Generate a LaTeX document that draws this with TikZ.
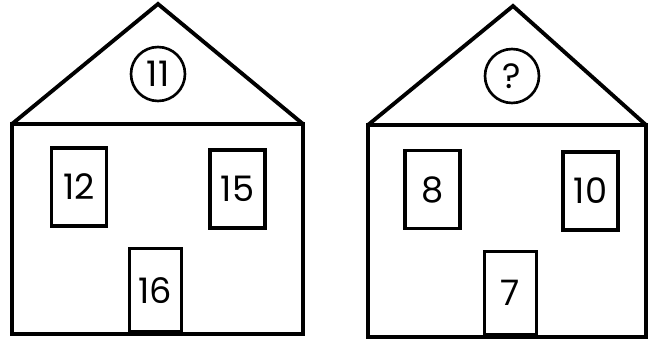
\documentclass[tikz,border=0pt]{standalone}
\usepackage{fontspec}
\setmainfont{Poppins}
\usetikzlibrary{calc}

\begin{document}
\begin{tikzpicture}[
			x=0.02cm, y=-0.02cm,
			wall/.style={line width=2.2pt, line join=miter},
			win/.style={draw, line width=2pt, inner sep=0pt,
				minimum width=1.1cm, minimum height=1.56cm,
				font=\fontsize{20}{20}\selectfont},
			door/.style={draw, line width=2pt, inner sep=0pt,
				minimum width=1.04cm, minimum height=1.68cm, anchor=south,
				font=\fontsize{20}{20}\selectfont},
			badge/.style={circle, draw, line width=1.5pt, inner sep=0pt,
				minimum size=1.08cm, font=\fontsize{20}{20}\selectfont}
			]
			% frame of the picture (pixel units)
			\useasboundingbox (0,0) rectangle (650,344);
			
			% =========================================================
			% house on the left
			% =========================================================
			\coordinate (LA)  at (158,4);      % apex
			\coordinate (LL)  at (12,124);     % eaves, left
			\coordinate (LR)  at (303,124);    % eaves, right
			\coordinate (LB)  at (303,334);    % foot, right
			\coordinate (LD)  at (155.5,334);  % foot of the door
			
			\draw[wall] (LL) rectangle (LB);
			\draw[wall] (LL) -- (LA) -- (LR);
			
			\node[badge] (roofL) at (158,74) {11};
			\node[win] (winLa) at (79,187) {12};
			\node[win] (winLb) at (237.5,189) {15};
			\node[door] (doorL) at (LD) {16};
			
			% =========================================================
			% house on the right
			% =========================================================
			\coordinate (RA)  at (513,6);
			\coordinate (RL)  at (368,125);
			\coordinate (RR)  at (646,125);
			\coordinate (RB)  at (646,337);
			\coordinate (RD)  at (510.5,337);
			
			\draw[wall] (RL) rectangle (RB);
			\draw[wall] (RL) -- (RA) -- (RR);
			
			\node[badge] (roofR) at (512,76) {?};
			\node[win] (winRa) at (432.5,189.5) {8};
			\node[win] (winRb) at (590.5,191) {10};
			\node[door] (doorR) at (RD) {7};
			
		\end{tikzpicture}
\end{document}
